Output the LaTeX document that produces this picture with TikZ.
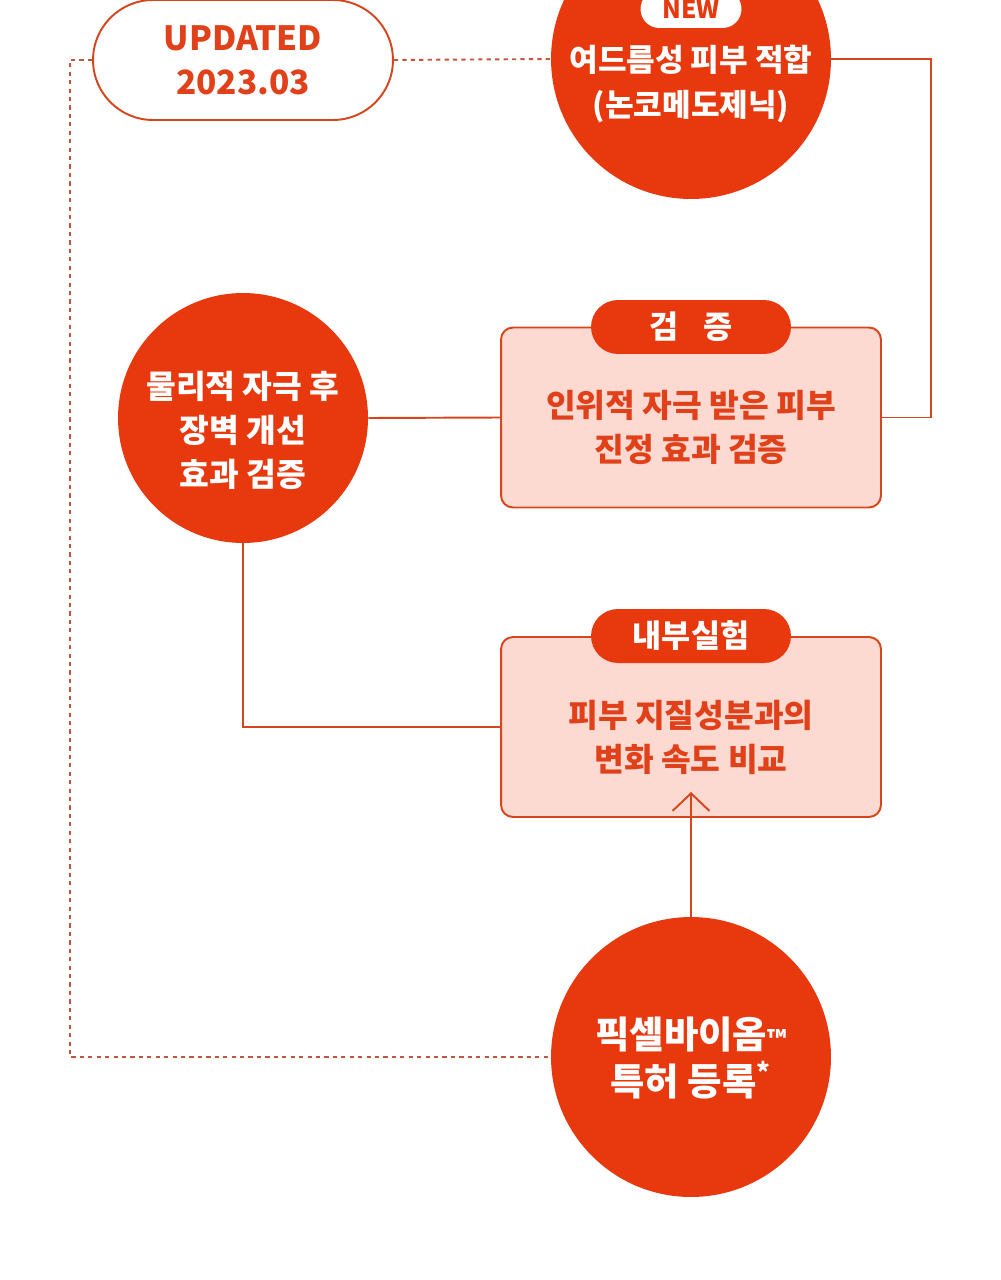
\documentclass[tikz,border=0pt]{standalone}
\usepackage{fontspec}
\setmainfont{Noto Sans CJK KR}
\usetikzlibrary{arrows.meta}
\definecolor{cred}{HTML}{E8380D}
\definecolor{cline}{HTML}{D5461C}
\definecolor{cpink}{HTML}{FCDAD1}
\definecolor{ctxt}{HTML}{E0411A}
\definecolor{cdot}{HTML}{BF563D}
\begin{document}
\begin{tikzpicture}[x=0.02cm,y=-0.02cm,
  bigcirc/.style={circle, fill=cred, minimum size=5.6cm, inner sep=0pt},
  midcirc/.style={circle, fill=cred, minimum size=5cm, inner sep=0pt},
  ctext/.style={text=white, align=center, inner sep=0pt, font=\bfseries\fontsize{18.4}{25}\selectfont},
  ptext/.style={text=ctxt, align=center, inner sep=0pt, font=\bfseries\fontsize{18.4}{25}\selectfont},
  pill/.style={draw=cline, line width=1.1pt, fill=white, rounded corners=1.2cm, minimum width=6cm, minimum height=2.4cm, inner sep=0pt},
  newpill/.style={fill=white, rounded corners=0.38cm, minimum width=2.02cm, minimum height=0.76cm, inner sep=0pt, text=cred, font=\bfseries\fontsize{14}{14}\selectfont},
  panel/.style={draw=cline, fill=cpink, line width=1.1pt, rounded corners=0.24cm, minimum width=7.6cm, minimum height=3.6cm, inner sep=0pt},
  tabbox/.style={fill=cred, rounded corners=0.54cm, minimum width=4cm, minimum height=1.08cm, inner sep=0pt, text=white, font=\bfseries\fontsize{18}{18}\selectfont},
  conn/.style={draw=cline, line width=1.1pt},
  dotline/.style={draw=cdot, line width=1.1pt, dash pattern=on 2.4pt off 2.4pt}
]
\useasboundingbox (0,0) rectangle (1000,1280);
\fill[white] (0,0) rectangle (1000,1280);

% shapes
\node[bigcirc] (topc) at (691,59) {};
\node[midcirc] (lc) at (243,418) {};
\node[bigcirc] (bc) at (691,1057) {};
\node[panel] (p1) at (691,417.5) {};
\node[panel] (p2) at (691,727) {};
\node[pill] (upd) at (243,60) {};

% connectors
\coordinate (rc) at (931,59);
\coordinate (dl) at (70,60);
\coordinate (atip) at (691,792);
\draw[conn] (topc.east) -- (rc) |- (p1.east);
\draw[conn] (lc.east) -- (p1.west);
\draw[conn] (lc.south) |- (p2.west);
\draw[conn, -{Straight Barb[length=10pt,width=21pt,line width=1.1pt]}] (bc.north) -- (atip);
\draw[dotline] (upd.west) -- (dl) |- (bc.west);
\draw[dotline] (upd.east) -- (topc.west);

% tabs
\node[tabbox] (t1) at (691,327) {검\hspace{0.8em}증};
\node[tabbox] (t2) at (691,636) {내부실험};
\node[newpill] (np) at (691,9) {NEW};

% texts
\node[text=ctxt, align=center, inner sep=0pt, font=\bfseries\fontsize{19}{25}\selectfont] (updt) at (243,60) {UPDATED\\2023.03};
\node[text=white, align=center, inner sep=0pt, font=\bfseries\fontsize{17.7}{25.5}\selectfont] (topt) at (691,84) {여드름성 피부 적합\\(논코메도제닉)};
\node[ctext] (lct) at (243,430) {물리적 자극 후\\장벽 개선\\효과 검증};
\node[ptext] (p1t) at (691,427) {인위적 자극 받은 피부\\진정 효과 검증};
\node[ptext] (p2t) at (691,737) {피부 지질성분과의\\변화 속도 비교};
\node[text=white, align=center, inner sep=0pt, font=\bfseries\fontsize{21.3}{26.6}\selectfont] (bct) at (691,1058) {픽셀바이옴{\fontsize{14}{14}\selectfont™}\\특허 등록\textsuperscript{*}};
\end{tikzpicture}
\end{document}
